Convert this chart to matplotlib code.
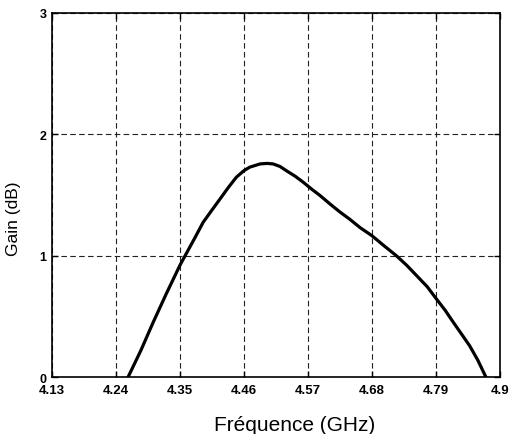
import matplotlib
matplotlib.use("Agg")
import matplotlib.pyplot as plt

freq = [4.261, 4.283, 4.304, 4.327, 4.35, 4.359, 4.375, 4.39, 4.405, 4.419,
        4.433, 4.447, 4.46, 4.47, 4.488, 4.50, 4.51, 4.522, 4.533, 4.548,
        4.562, 4.576, 4.591, 4.608, 4.625, 4.642, 4.66, 4.68, 4.70, 4.722,
        4.74, 4.757, 4.775, 4.791, 4.806, 4.82, 4.834, 4.848, 4.862, 4.876]
gain = [0.0, 0.22, 0.45, 0.69, 0.92, 1.0, 1.14, 1.275, 1.375, 1.467,
        1.56, 1.646, 1.70, 1.729, 1.756, 1.76, 1.756, 1.735, 1.70, 1.655,
        1.605, 1.55, 1.495, 1.426, 1.36, 1.30, 1.23, 1.165, 1.085, 1.0,
        0.92, 0.835, 0.745, 0.643, 0.55, 0.451, 0.355, 0.258, 0.14, 0.0]

xticks = [4.13, 4.24, 4.35, 4.46, 4.57, 4.68, 4.79, 4.9]
xticklabels = ["4.13", "4.24", "4.35", "4.46", "4.57", "4.68", "4.79", "4.9"]
yticks = [0, 1, 2, 3]
yticklabels = ["0", "1", "2", "3"]

plt.rcParams['font.family'] = ['Liberation Sans', 'DejaVu Sans']

fig = plt.figure(figsize=(5.09, 4.35), dpi=100)
ax = fig.add_axes([0.102, 0.131, 0.880, 0.837])

ax.plot(freq, gain, color='black', linewidth=2.3, solid_capstyle='round',
        solid_joinstyle='round')

ax.set_xlim(4.13, 4.9)
ax.set_ylim(0, 3)
ax.set_xticks(xticks)
ax.set_xticklabels(xticklabels, fontsize=9.5, fontweight='bold')
ax.set_yticks(yticks)
ax.set_yticklabels(yticklabels, fontsize=9, fontweight='bold')
ax.tick_params(direction='in', length=4, width=1, top=True, right=True)
ax.tick_params(axis='x', pad=5)
ax.tick_params(axis='y', pad=4)

ax.grid(True, color='#222222', linestyle=(0, (5, 3)), linewidth=0.8)
for s in ax.spines.values():
    s.set_linewidth(1.2)
    s.set_color('black')

ax.set_xlabel("Fréquence (GHz)", fontsize=15)
ax.set_ylabel("Gain (dB)", fontsize=12.5)
ax.xaxis.set_label_coords(0.542, -0.105)
ax.yaxis.set_label_coords(-0.068, 0.437)

fig.savefig("out.png", dpi=100)
